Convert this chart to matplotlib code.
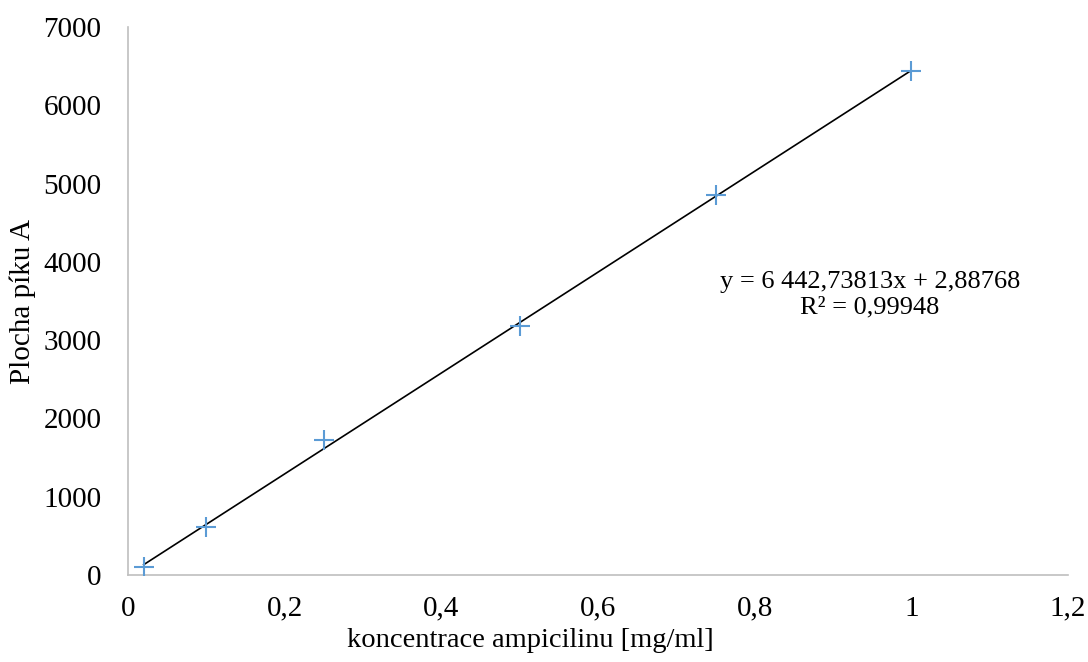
import matplotlib
matplotlib.use("Agg")
import matplotlib.pyplot as plt
import numpy as np

concentration = [0.02, 0.1, 0.25, 0.5, 0.75, 1.0]
peak_area = [102, 615, 1720, 3175, 4850, 6435]
slope = 6442.73813
intercept = 2.88768
x_ticks = [0, 0.2, 0.4, 0.6, 0.8, 1.0, 1.2]
x_tick_labels = ["0", "0,2", "0,4", "0,6", "0,8", "1", "1,2"]
y_ticks = [0, 1000, 2000, 3000, 4000, 5000, 6000, 7000]

plt.rcParams['font.family'] = ['Liberation Serif', 'DejaVu Serif']

fig = plt.figure(figsize=(10.88, 6.62), dpi=100)
ax = fig.add_axes([128/1088, 1 - 575/662, (1068-128)/1088, (575-27)/662])

xs = np.array([min(concentration), max(concentration)])
ax.plot(xs, slope * xs + intercept, color='black', lw=1.2, zorder=2)
ax.plot(concentration, peak_area, linestyle='none', marker='+', markersize=15,
        markeredgewidth=1.5, color='#5b9bd5', zorder=3)

ax.set_xlim(0, 1.2)
ax.set_ylim(0, 7000)
ax.set_xticks(x_ticks)
ax.set_xticklabels(x_tick_labels)
ax.set_yticks(y_ticks)
ax.tick_params(length=0, labelsize=21)
ax.tick_params(axis='x', pad=15)
ax.tick_params(axis='y', pad=19)
for s in ['top', 'right']:
    ax.spines[s].set_visible(False)
for s in ['left', 'bottom']:
    ax.spines[s].set_color('#bfbfbf')
    ax.spines[s].set_linewidth(1.2)

ax.set_xlabel("koncentrace ampicilinu [mg/ml]", fontsize=20.5)
ax.xaxis.set_label_coords((530 - 128) / 940, -(628 - 575) / 548)
ax.set_ylabel("Plocha píku A", fontsize=21)
ax.yaxis.set_label_coords(-(128 - 36) / 940, 0.5)

ax.text(0.947, 3580, "y = 6 442,73813x + 2,88768\nR² = 0,99948", fontsize=19,
        ha='center', va='center', linespacing=1.15)

fig.savefig("out.png", dpi=100)
